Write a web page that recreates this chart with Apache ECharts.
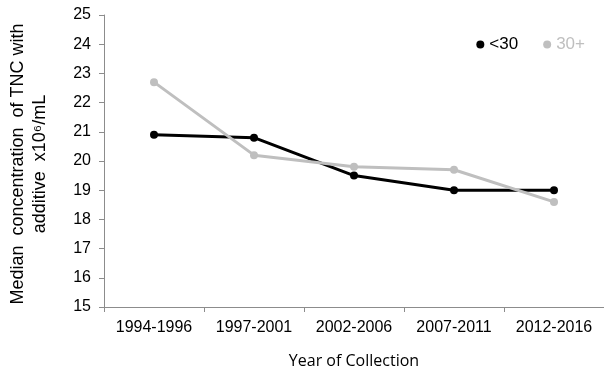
<!DOCTYPE html>
<html><head><meta charset="utf-8">
<script src="https://cdn.jsdelivr.net/npm/echarts@6/dist/echarts.min.js"></script>
<style>html,body{margin:0;padding:0;background:#fff}#c{width:604px;height:375px}</style>
</head><body><div id="c"></div>
<script>
const categories = ['1994-1996','1997-2001','2002-2006','2007-2011','2012-2016'];
const under30 = [20.9, 20.8, 19.5, 19.0, 19.0];
const over30 = [22.7, 20.2, 19.8, 19.7, 18.6];
const yTicks = {min: 15, max: 25, interval: 1};
const yTitle = 'Median  concentration  of TNC with\nadditive  x10\u2076/mL';
const xTitle = 'Year of Collection';

const chart = echarts.init(document.getElementById('c'), null, {renderer: 'canvas'});
const axisGrey = '#8c8c8c';
chart.setOption({
  animation: false,
  backgroundColor: '#fff',
  grid: {left: 104, right: 0, top: 15, bottom: 68, containLabel: false},
  legend: {
    right: 14, top: 31, itemGap: 25, itemWidth: 8, itemHeight: 8,
    icon: 'circle',
    data: [{name: '<30', textStyle: {color: '#000'}}, {name: '30+', textStyle: {color: '#bfbfbf'}}],
    textStyle: {fontFamily: 'Liberation Sans', fontSize: 17}
  },
  graphic: [{
    type: 'text', x: 29, y: 164, rotation: Math.PI / 2,
    style: {text: yTitle, fill: '#000', font: '18px "Liberation Sans"',
            textAlign: 'center', textVerticalAlign: 'middle', lineHeight: 22}
  }],
  xAxis: {
    type: 'category', data: categories, boundaryGap: true,
    axisLine: {lineStyle: {color: axisGrey, width: 1}},
    axisTick: {show: true, length: 5, lineStyle: {color: axisGrey}},
    axisLabel: {color: '#000', fontFamily: 'Liberation Sans', fontSize: 16, margin: 13, interval: 0},
    name: xTitle, nameLocation: 'middle', nameGap: 46,
    nameTextStyle: {color: '#000', fontFamily: 'Open Sans', fontSize: 16}
  },
  yAxis: {
    type: 'value', min: yTicks.min, max: yTicks.max, interval: yTicks.interval,
    axisLine: {show: true, lineStyle: {color: axisGrey, width: 1}},
    axisTick: {show: true, length: 5, inside: false, lineStyle: {color: axisGrey}},
    splitLine: {show: false},
    axisLabel: {color: '#000', fontFamily: 'Liberation Sans', fontSize: 16, margin: 13}
  },
  series: [
    {name: '<30', type: 'line', data: under30, symbol: 'circle', symbolSize: 8,
     itemStyle: {color: '#000'}, lineStyle: {color: '#000', width: 3}},
    {name: '30+', type: 'line', data: over30, symbol: 'circle', symbolSize: 8,
     itemStyle: {color: '#bfbfbf'}, lineStyle: {color: '#bfbfbf', width: 3}}
  ]
});
</script></body></html>
